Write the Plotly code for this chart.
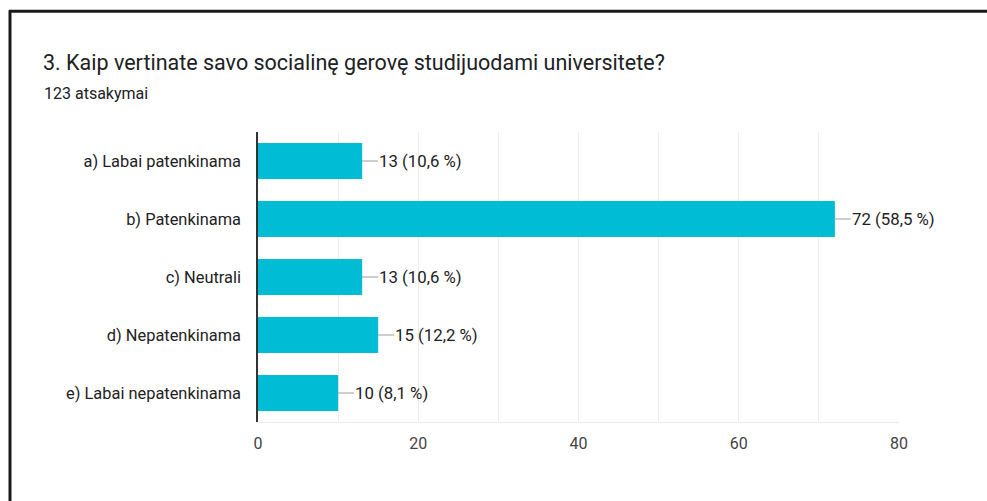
import plotly.graph_objects as go

# Survey answers
categories = [
    "a) Labai patenkinama",
    "b) Patenkinama",
    "c) Neutrali",
    "d) Nepatenkinama",
    "e) Labai nepatenkinama",
]
counts = [13, 72, 13, 15, 10]
percent_labels = ["10,6", "58,5", "10,6", "12,2", "8,1"]
x_ticks = [0, 20, 40, 60, 80]

W, H = 987, 501
# plot-area placement in pixels
L, R, T, B = 258, 899, 132, 422.5


def px(xp):
    return (xp - L) / (R - L)


def py(yp):
    return (B - yp) / (B - T)


FONT = "Roboto, Arial, sans-serif"

fig = go.Figure(
    go.Bar(
        x=counts,
        y=categories,
        orientation="h",
        marker=dict(color="#00bcd4", line=dict(width=0)),
        width=0.62,
        hoverinfo="skip",
    )
)

# value labels with short leader lines
for cat, n, p in zip(categories, counts, percent_labels):
    fig.add_annotation(
        x=n, y=cat, xref="x", yref="y",
        text=f"{n} ({p} %)",
        showarrow=True, arrowhead=0, arrowwidth=1, arrowcolor="#9e9e9e",
        ax=16, ay=0, xanchor="left", yanchor="middle",
        standoff=0, startstandoff=0, borderpad=0,
        font=dict(family=FONT, size=16.8, color="#222222"),
    )

# subtitle
fig.add_annotation(
    x=px(42), y=py(93), xref="paper", yref="paper",
    text="123 atsakymai", showarrow=False,
    xanchor="left", yanchor="middle",
    font=dict(family=FONT, size=16, color="#202124"),
)

# frame lines along top and left edge
fig.add_shape(type="line", xref="paper", yref="paper",
              x0=px(9), x1=px(W), y0=py(11), y1=py(11),
              line=dict(color="#1a1a1a", width=3))
fig.add_shape(type="line", xref="paper", yref="paper",
              x0=px(10), x1=px(10), y0=py(10), y1=py(W),
              line=dict(color="#1a1a1a", width=3))

fig.update_layout(
    width=W, height=H,
    margin=dict(l=L, r=W - R, t=T, b=H - B, pad=0),
    paper_bgcolor="white", plot_bgcolor="white",
    showlegend=False,
    bargap=0.38,
    title=dict(
        text="3. Kaip vertinate savo socialinę gerovę studijuodami universitete?",
        xref="container", yref="container",
        x=43 / W, y=1 - 62 / H, xanchor="left", yanchor="middle",
        font=dict(family=FONT, size=21.5, color="#202124"),
    ),
    xaxis=dict(
        range=[0, 80], tickvals=x_ticks, ticktext=[str(v) for v in x_ticks],
        showgrid=True, gridcolor="#ececec", gridwidth=1,
        minor=dict(dtick=10, showgrid=True, gridcolor="#ececec", gridwidth=1, tick0=0),
        zeroline=False, showline=True, linecolor="#ececec", linewidth=1,
        ticks="", ticklabelstandoff=7,
        tickfont=dict(family=FONT, size=16, color="#444444"),
        fixedrange=True,
    ),
    yaxis=dict(
        autorange="reversed",
        showgrid=False, zeroline=False,
        showline=True, linecolor="#333333", linewidth=1.5,
        ticks="", ticklabelstandoff=12,
        tickfont=dict(family=FONT, size=16.4, color="#222222"),
        fixedrange=True,
    ),
)

fig.write_html("out.html")
